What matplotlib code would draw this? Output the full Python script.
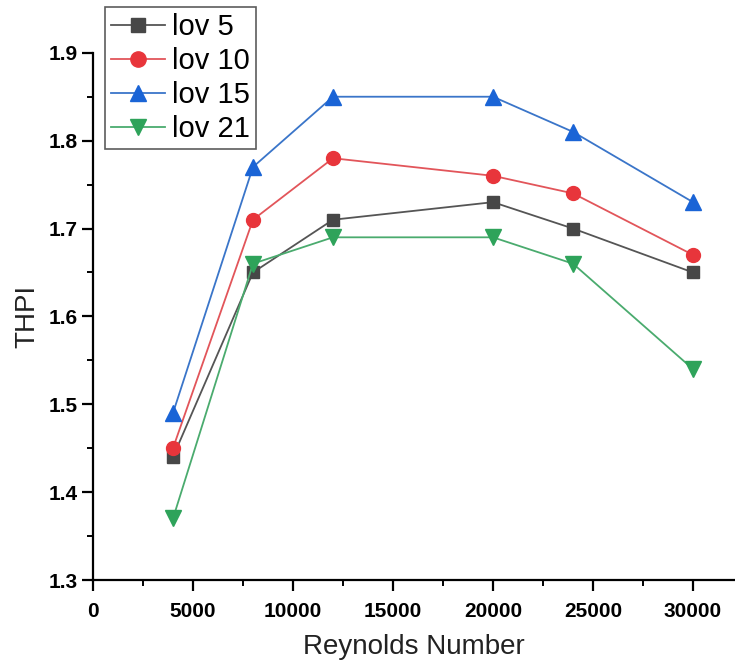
import matplotlib
matplotlib.use("Agg")
import matplotlib.pyplot as plt
from matplotlib.ticker import MultipleLocator

reynolds = [4000, 8000, 12000, 20000, 24000, 30000]
lov5 = [1.44, 1.65, 1.71, 1.73, 1.70, 1.65]
lov10 = [1.45, 1.71, 1.78, 1.76, 1.74, 1.67]
lov15 = [1.49, 1.77, 1.85, 1.85, 1.81, 1.73]
lov21 = [1.37, 1.66, 1.69, 1.69, 1.66, 1.54]
labels = ["lov 5", "lov 10", "lov 15", "lov 21"]

plt.rcParams['font.family'] = ['Liberation Sans', 'DejaVu Sans']

fig = plt.figure(figsize=(7.35, 6.64), dpi=100)
ax = fig.add_axes([0.1265, 0.1265, 0.8735, 0.794])

series = [lov5, lov10, lov15, lov21]
markers = ['s', 'o', '^', 'v']
mcolors = ['#474747', '#e8353b', '#1a64d6', '#2ea35a']
lcolors = ['#555555', '#e2555a', '#3a75c9', '#4aab6e']
msizes = [9, 10, 11, 11]
for y, m, mc, lc, ms, lab in zip(series, markers, mcolors, lcolors, msizes, labels):
    ax.plot(reynolds, y, color=lc, lw=1.3, marker=m, markersize=ms,
            markerfacecolor=mc, markeredgecolor=mc, label=lab)

ax.set_xlim(0, 32100)
ax.set_ylim(1.3, 1.9)
ax.xaxis.set_major_locator(MultipleLocator(5000))
ax.xaxis.set_minor_locator(MultipleLocator(2500))
ax.yaxis.set_minor_locator(MultipleLocator(0.05))
ax.set_yticks([1.3, 1.4, 1.5, 1.6, 1.7, 1.8, 1.9])
ax.set_yticklabels(['1.3', '1.4', '1.5', '1.6', '1.7', '1.8', '1.9'])

for s in ['top', 'right']:
    ax.spines[s].set_visible(False)
for s in ['left', 'bottom']:
    ax.spines[s].set_linewidth(1.6)
    ax.spines[s].set_color('black')

ax.tick_params(which='major', direction='out', length=8, width=1.6, labelsize=15)
ax.tick_params(axis='x', which='major', pad=8)
ax.tick_params(axis='y', which='major', pad=3)
ax.tick_params(which='minor', direction='out', length=4, width=1.4)
for t in ax.get_xticklabels() + ax.get_yticklabels():
    t.set_fontweight('bold')

ax.set_xlabel("Reynolds Number", fontsize=20, labelpad=9, color='#222222')
ax.set_ylabel("THPI", fontsize=20, labelpad=6, color='#222222')

leg = ax.legend(loc='upper left', bbox_to_anchor=(0.019, 1.086), fontsize=21,
                frameon=True, fancybox=False, edgecolor='#333333',
                handlelength=1.85, handletextpad=0.25, borderpad=0.2,
                labelspacing=0.2, borderaxespad=0, markerscale=1.1)
leg.get_frame().set_linewidth(1.2)

fig.savefig("out.png", dpi=100)
